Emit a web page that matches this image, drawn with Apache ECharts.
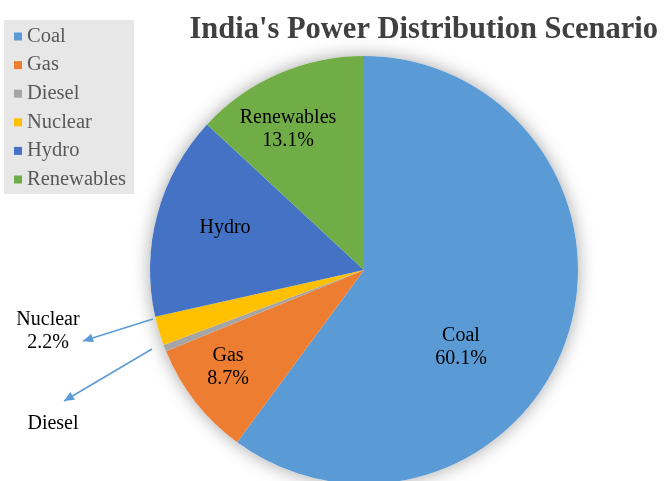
<!DOCTYPE html>
<html>
<head>
<meta charset="utf-8">
<script src="https://cdn.jsdelivr.net/npm/echarts@6/dist/echarts.min.js"></script>
<style>html,body{margin:0;padding:0;background:#fff}#c{width:664px;height:481px}</style>
</head>
<body>
<div id="c"></div>
<script>
const categories = ['Coal', 'Gas', 'Diesel', 'Nuclear', 'Hydro', 'Renewables'];
const shares = [60.1, 8.7, 0.5, 2.2, 15.4, 13.1];
const labelTexts = ['Coal\n60.1%', 'Gas\n8.7%', 'Diesel', 'Nuclear\n2.2%', 'Hydro', 'Renewables\n13.1%'];
const colors = ['#5B9BD5', '#ED7D31', '#A5A5A5', '#FFC000', '#4472C4', '#70AD47'];

const SERIF = '"Liberation Serif", "Times New Roman", serif';
const CX = 364, CY = 270, R = 214;

// label placement (annotation layout only)
const labelPlace = {
  Coal: {x: 461, y: 347},
  Gas: {x: 228, y: 367},
  Hydro: {x: 225, y: 228},
  Renewables: {x: 288, y: 129},
  Nuclear: {x: 48, y: 331},
  Diesel: {x: 53, y: 424}
};
const arrows = {
  Nuclear: [[153, 319], [83, 341]],
  Diesel: [[152, 349], [64, 401]]
};

function arrowHead(p0, p1) {
  const ang = Math.atan2(p1[1] - p0[1], p1[0] - p0[0]);
  const L = 10, W = 4.5;
  const bx = p1[0] - L * Math.cos(ang), by = p1[1] - L * Math.sin(ang);
  const nx = -Math.sin(ang), ny = Math.cos(ang);
  return [[p1[0], p1[1]], [bx + nx * W, by + ny * W], [bx - nx * W, by - ny * W]];
}

const data = categories.map((n, i) => {
  const outside = !!arrows[n];
  return {
    name: n,
    value: shares[i],
    label: {
      show: true,
      position: outside ? 'outside' : 'inside',
      formatter: labelTexts[i]
    },
    labelLine: {show: outside}
  };
});

const chart = echarts.init(document.getElementById('c'), null, {renderer: 'canvas'});
chart.setOption({
  animation: false,
  color: colors,
  textStyle: {fontFamily: SERIF},
  title: {
    text: "India's Power Distribution Scenario",
    right: 1,
    top: 10,
    textStyle: {fontFamily: SERIF, fontSize: 30.5, fontWeight: 'bold', color: '#404040'}
  },
  legend: {
    orient: 'vertical',
    left: 4,
    top: 20,
    backgroundColor: '#E7E7E7',
    padding: [6, 8, 4, 10],
    itemGap: 7.6,
    itemWidth: 8,
    itemHeight: 8,
    icon: 'rect',
    data: categories,
    textStyle: {fontFamily: SERIF, fontSize: 20.5, color: '#595959', lineHeight: 20}
  },
  series: [
    {
      type: 'pie',
      silent: true,
      center: [CX, CY],
      radius: R,
      startAngle: 90,
      label: {show: false},
      labelLine: {show: false},
      itemStyle: {color: '#fff', shadowBlur: 18, shadowColor: 'rgba(0,0,0,0.35)'},
      data: [{name: '_bg', value: 1}],
      z: 1
    },
    {
      type: 'pie',
      center: [CX, CY],
      radius: R,
      startAngle: 90,
      clockwise: true,
      avoidLabelOverlap: false,
      label: {fontFamily: SERIF, fontSize: 20, color: '#000', lineHeight: 23, align: 'center'},
      labelLine: {lineStyle: {color: '#5B9BD5', width: 1.5}},
      labelLayout: function (p) {
        const name = categories[p.dataIndex];
        const pos = labelPlace[name];
        const out = {x: pos.x, y: pos.y, align: 'center', verticalAlign: 'middle'};
        if (arrows[name]) out.labelLinePoints = arrows[name].concat([arrows[name][1]]);
        return out;
      },
      data: data,
      z: 2
    }
  ],
  graphic: Object.keys(arrows).map(k => ({
    type: 'polygon',
    shape: {points: arrowHead(arrows[k][0], arrows[k][1])},
    style: {fill: '#5B9BD5'},
    z: 100
  }))
});
</script>
</body>
</html>
